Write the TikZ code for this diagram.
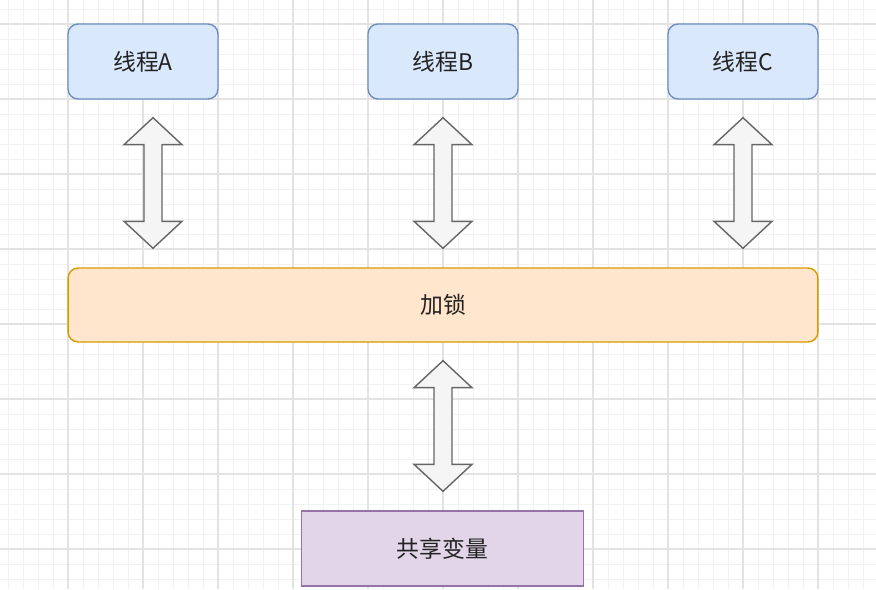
\documentclass[tikz,border=0pt]{standalone}
\usepackage{fontspec}
\usepackage{tikz}
\usetikzlibrary{calc}
\newfontfamily\cjk{Noto Sans CJK SC}
\definecolor{thrfill}{HTML}{DAE8FC}
\definecolor{thrline}{HTML}{6C8EBF}
\definecolor{lockfill}{HTML}{FFE6CC}
\definecolor{lockline}{HTML}{D79B00}
\definecolor{varfill}{HTML}{E1D5E7}
\definecolor{varline}{HTML}{9673A6}
\definecolor{arrfill}{HTML}{F5F5F5}
\definecolor{arrline}{HTML}{666666}
\definecolor{txt}{HTML}{222222}
% block double arrow between two nodes: from, to, x offset, name
\newcommand{\biarrow}[4]{%
  \coordinate (#4t) at ($(#1.south)+(#3,18)$);
  \coordinate (#4b) at ($(#1.south |- #2.north)+(#3,-19)$);
  \draw[barrow] (#4t) -- ++(29,27) -- ++(-20,0) -- ($(#4b)+(9,-27)$)
    -- ++(20,0) -- (#4b) -- ++(-29,-27) -- ++(20,0)
    -- ($(#4t)+(-9,27)$) -- ++(-20,0) -- cycle;}

\begin{document}
\begin{tikzpicture}[
  x=0.02cm, y=-0.02cm,
  box/.style={draw,line width=0.8pt,inner sep=0pt,text=txt,
    font=\cjk\fontsize{13}{15}\selectfont},
  thr/.style={box,fill=thrfill,draw=thrline,rounded corners=0.2cm,
    minimum width=3cm,minimum height=1.5cm},
  lockbox/.style={box,fill=lockfill,draw=lockline,rounded corners=0.2cm,
    minimum width=15cm,minimum height=1.48cm},
  varbox/.style={box,fill=varfill,draw=varline,
    minimum width=5.64cm,minimum height=1.5cm},
  barrow/.style={fill=arrfill,draw=arrline,line width=0.8pt,line join=miter},
  minorgrid/.style={draw=black!5,line width=0.5pt},
  majorgrid/.style={draw=black!11,line width=0.6pt}
]
  \useasboundingbox[fill=white] (0,0) rectangle (876,589);

  % grid
  \foreach \x in {8,23,...,878} \draw[minorgrid] (\x,0) -- (\x,589);
  \foreach \y in {9,24,...,589} \draw[minorgrid] (0,\y) -- (876,\y);
  \foreach \x in {68,143,...,818} \draw[majorgrid] (\x,0) -- (\x,589);
  \foreach \y in {24,99,...,549} \draw[majorgrid] (0,\y) -- (876,\y);

  \node[thr] (ta) at (143,61.5) {线程A};
  \node[thr] (tb) at (443,61.5) {线程B};
  \node[thr] (tc) at (743,61.5) {线程C};
  \node[lockbox] (lock) at (443,305) {加锁};
  \node[varbox] (var) at (442.5,548.5) {共享变量};

  \biarrow{ta}{lock}{10}{aa}
  \biarrow{tb}{lock}{0}{ab}
  \biarrow{tc}{lock}{0}{ac}
  \biarrow{lock}{var}{0}{av}
\end{tikzpicture}
\end{document}
